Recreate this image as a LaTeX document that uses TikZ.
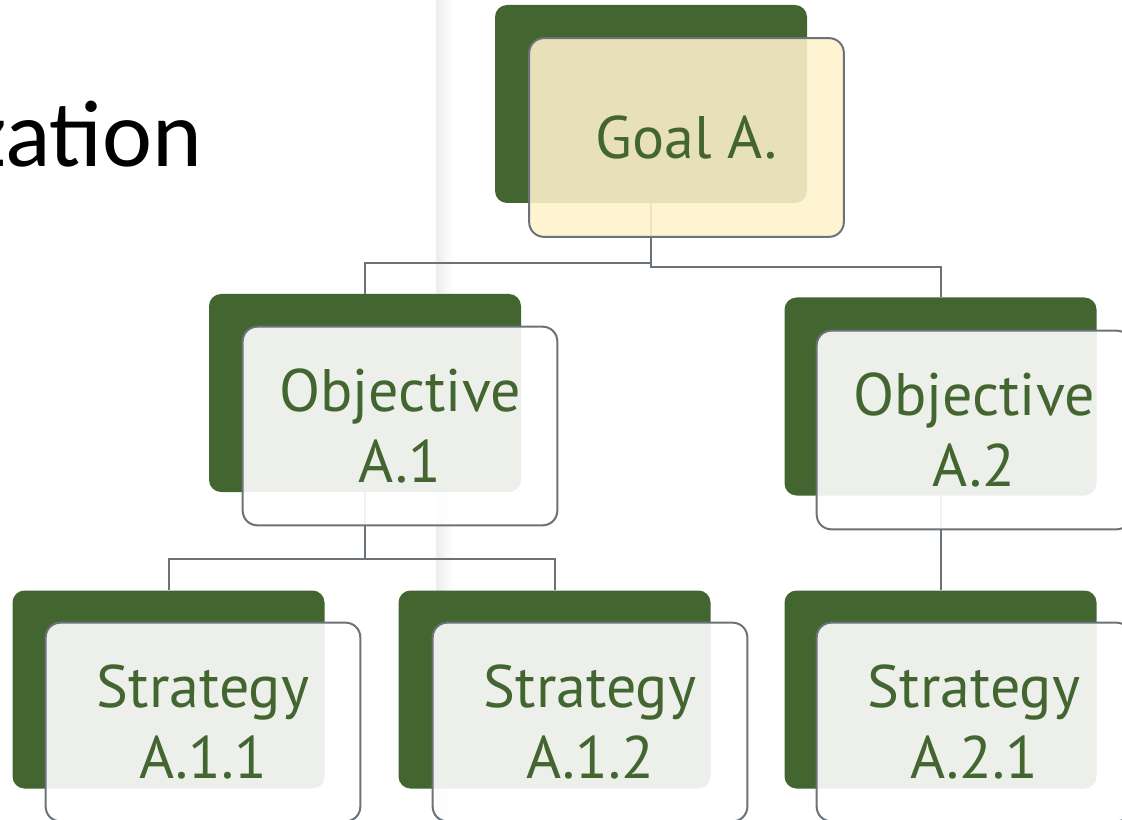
\documentclass[tikz,border=0pt]{standalone}
\usepackage{fontspec}
\setmainfont{Carlito}
\newfontfamily\boxfont{PT Sans}
\definecolor{darkleaf}{HTML}{43652F}
\definecolor{linegray}{HTML}{6B737A}
\definecolor{goalcream}{HTML}{FFF2CC}
\begin{document}
\begin{tikzpicture}[x=0.75pt,y=-0.75pt]
        \tikzstyle{back}=[rounded corners=9pt,fill=darkleaf,minimum width=234pt,minimum height=148.5pt,inner sep=0pt]
        \tikzstyle{front}=[rounded corners=11pt,draw=linegray,line width=1.5pt,fill=white,fill opacity=0.9,text opacity=1,text=darkleaf,minimum width=236pt,minimum height=149pt,inner sep=0pt,align=center,font=\boxfont\fontsize{45}{53}\selectfont]
        \tikzstyle{edge}=[draw=linegray,line width=1.5pt]
       \clip (0,0) rectangle (1122,820);
       \shade[left color=black!7,right color=white] (436,0) rectangle (453,820);
       \node[anchor=base east,font=\fontsize{71}{80}\selectfont] (title) at (207,167) {zation};
       \begin{scope}
         \node [back] (goalbg) at (651,104) {};
         \node [back] (obj1bg) at (365,393) {};
         \node [back] (obj2bg) at (940.5,396.5) {};
         \node [back] (str11bg) at (168.5,689.5) {};
         \node [back] (str12bg) at (554.5,689.5) {};
         \node [back] (str21bg) at (940.5,689.5) {};
         \path[edge] (goalbg.south) -- ++(0,60) -| (obj1bg.north);
         \path[edge] (goalbg.south) -- ++(0,64) -| (obj2bg.north);
         \path[edge] (obj1bg.south) -- ++(0,67) -| (str11bg.north);
         \path[edge] (obj1bg.south) -- ++(0,67) -| (str12bg.north);
         \path[edge] (obj2bg.south) -- (str21bg.north);
         \node [front,fill=goalcream,fill opacity=0.88] (goal) at (686.5,137.5) {Goal A.};
         \node [front] (obj1) at (400,426) {Objective\\A.1};
         \node [front] (obj2) at (974,430) {Objective\\A.2};
         \node [front] (str11) at (203,722) {Strategy\\A.1.1};
         \node [front] (str12) at (590,722) {Strategy\\A.1.2};
         \node [front] (str21) at (974,722) {Strategy\\A.2.1};
        \end{scope}
      \end{tikzpicture}
\end{document}
